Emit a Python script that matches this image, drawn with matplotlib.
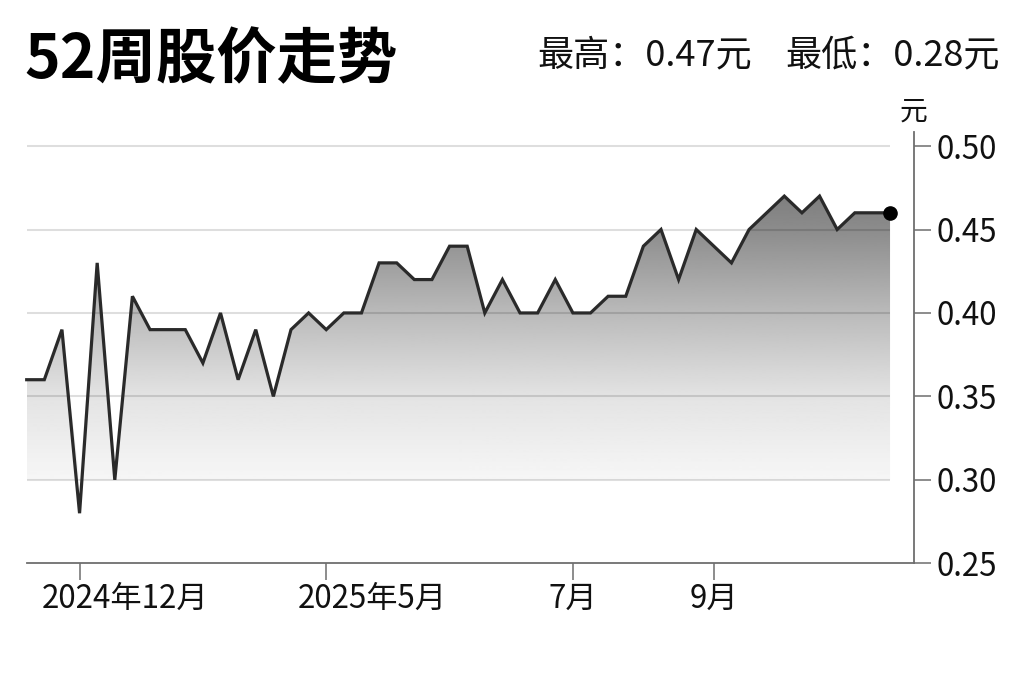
import numpy as np
import matplotlib
matplotlib.use('Agg')
import matplotlib.pyplot as plt
import matplotlib.transforms as mtransforms
from matplotlib.colors import LinearSegmentedColormap

plt.rcParams['font.family'] = ['Noto Sans CJK SC', 'DejaVu Sans']

# weekly closing price (元)
prices = [0.36, 0.36, 0.39, 0.28, 0.43, 0.30, 0.41, 0.39, 0.39, 0.39,
          0.37, 0.40, 0.36, 0.39, 0.35, 0.39, 0.40, 0.39, 0.40, 0.40,
          0.43, 0.43, 0.42, 0.42, 0.44, 0.44, 0.40, 0.42, 0.40, 0.40,
          0.42, 0.40, 0.40, 0.41, 0.41, 0.44, 0.45, 0.42, 0.45, 0.44,
          0.43, 0.45, 0.46, 0.47, 0.46, 0.47, 0.45, 0.46, 0.46, 0.46]
tick_idx = [3, 17, 31, 39]
tick_labels = ['2024年12月', '2025年5月', '7月', '9月']
y_ticks = [0.25, 0.30, 0.35, 0.40, 0.45, 0.50]
grid_vals = [0.30, 0.35, 0.40, 0.45, 0.50]
title = '52周股价走势'
hi_text = '最高：0.47元'
lo_text = '最低：0.28元'

x = np.arange(len(prices))
y = np.array(prices)

fig = plt.figure(figsize=(10.23, 6.82), dpi=100)
W, H = 1023, 682
ax = fig.add_axes([26.7 / W, (H - 563.3) / H, (914 - 26.7) / W, (563.3 - 131.7) / H])
ax.set_xlim(0, 50.36)
ax.set_ylim(0.25, 0.5086)

# gradient fill under the line (down to the 0.30 grid line), clipped to the area polygon
base = 0.30
poly = ax.fill_between(x, np.maximum(y, base), base, color='none', lw=0)
path = poly.get_paths()[0]
gy = np.linspace(base, 0.48, 300)
shade = np.interp(gy, [0.30, 0.35, 0.40, 0.45, 0.48], [0.965, 0.89, 0.73, 0.55, 0.47])
cmap = LinearSegmentedColormap.from_list('g', [(0, 0, 0), (1, 1, 1)])
im = ax.imshow(shade[:, None], extent=[x[0], x[-1], base, 0.48], origin='lower',
               aspect='auto', cmap=cmap, vmin=0, vmax=1, zorder=1)
im.set_clip_path(path, transform=ax.transData)

# grid lines only across the data range
ax.hlines(grid_vals, x[0], x[-1], colors='k', alpha=0.13, lw=1.5, zorder=2)

ax.plot(x, y, color='#2a2a2a', lw=2.3, zorder=3, solid_joinstyle='miter', clip_on=False)
ax.plot(x[-1], y[-1], 'o', color='black', ms=9.5, zorder=4, clip_on=False)

for s in ['top', 'left']:
    ax.spines[s].set_visible(False)
for s in ['bottom', 'right']:
    ax.spines[s].set_color('#6e6e6e')
    ax.spines[s].set_linewidth(1.3)

ax.yaxis.tick_right()
ax.set_yticks(y_ticks)
ax.set_yticklabels([f'{v:.2f}' for v in y_ticks])
ax.set_xticks(tick_idx)
ax.set_xticklabels(tick_labels)
ax.tick_params(axis='both', direction='out', length=12, width=1.1, color='#6e6e6e',
               labelsize=22.5, labelcolor='#111111')
ax.tick_params(axis='y', pad=4)
ax.tick_params(axis='x', pad=2)

# the long date labels sit to the right of their ticks in the original
for lab in ax.get_xticklabels():
    if '年' in lab.get_text():
        lab.set_transform(lab.get_transform() +
                          mtransforms.ScaledTranslation(0.46, 0, fig.dpi_scale_trans))

ax.text(1.0, 1.012, '元', transform=ax.transAxes, ha='center', va='bottom',
        fontsize=20, color='#111111')

fig.text(24 / W, 1 - 78 / H, title, fontsize=43.5, fontweight='black',
         color='black', va='baseline', ha='left')
fig.text(537 / W, 1 - 65 / H, hi_text, fontsize=26, color='#111111', va='baseline', ha='left')
fig.text(785 / W, 1 - 65 / H, lo_text, fontsize=26, color='#111111', va='baseline', ha='left')

fig.savefig('out.png', dpi=100)
